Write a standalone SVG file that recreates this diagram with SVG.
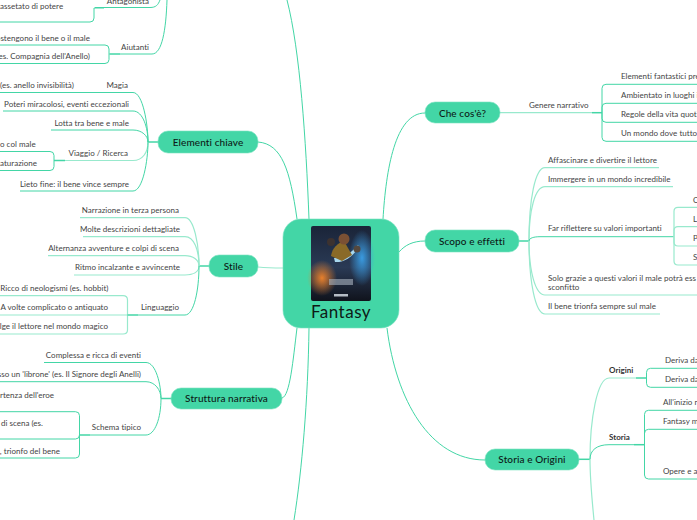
<svg xmlns="http://www.w3.org/2000/svg" width="697" height="520" viewBox="0 0 697 520">
<style>
.c{fill:none;stroke:#43d6a6;stroke-width:1}
.l{fill:none;stroke:#98e9cd;stroke-width:1.2}
.s{fill:none;stroke:#43d6a6;stroke-width:1.5}
.n{fill:#43d6a6;stroke:#7be3c1;stroke-width:.6}
text{font-family:"Lato","Noto Sans",sans-serif}
.t{font-size:8px;fill:#444;letter-spacing:.02px}
.e{text-anchor:end}
.b{font-weight:700;fill:#333}
.h{font-size:10px;fill:#0d1a16;text-anchor:middle;letter-spacing:.1px;font-weight:500}
</style>
<defs>
<linearGradient id="p" x1="0" y1="0" x2="0" y2="1"><stop offset="0" stop-color="#1a2438"/><stop offset=".55" stop-color="#2a3a55"/><stop offset="1" stop-color="#10131c"/></linearGradient>
<radialGradient id="o"><stop offset="0" stop-color="#e8802c"/><stop offset="1" stop-color="#e8802c" stop-opacity="0"/></radialGradient>
<radialGradient id="u"><stop offset="0" stop-color="#3a9be0"/><stop offset="1" stop-color="#3a9be0" stop-opacity="0"/></radialGradient>
</defs>
<g id="connectors">
<path class="c" d="M258 142C282 144 290 170 297 219"/>
<path class="l" d="M258 267C268 268 275 268 283 268"/>
<path class="c" d="M282 398C290 396 293 360 297 328"/>
<path class="c" d="M309 219C306 140 300 50 287 0"/>
<path class="c" d="M309 328C308 400 302 470 294 520"/>
<path class="c" d="M383 219C386 170 395 113 425 113"/>
<path class="c" d="M399 252C405 245 413 241 425 241"/>
<path class="c" d="M387 328C396 400 430 460 485 460"/>
<path class="c" d="M167 0C166 30 162 54 152 54H110"/>
<path class="c" d="M160 0C158 5 156 7.500 150 7.500H95"/>
<path class="c" d="M94 8V18Q94 22 90 22H0M94 8H104"/>
<path class="c" d="M0 45H105Q109 45 109 49V59.500Q109 63.500 105 63.500H0M109 54H120"/>
<path class="s" d="M148 142H158"/>
<path class="c" d="M0 92.500H133C143 92.500 148 125 148 142"/>
<path class="c" d="M3 111H133C143 111 148 128 148 142"/>
<path class="c" d="M51 130H133C142 130 148 136 148 142"/>
<path class="l" d="M65 160.500H133C143 160.500 148 152 148 142"/>
<path class="c" d="M20 191H133C143 191 148 160 148 142"/>
<path class="c" d="M0 151.500H50Q54 151.500 54 155.500V166.500Q54 170.500 50 170.500H0"/>
<path class="s" d="M54 160.500H65"/>
<path class="s" d="M199 266H209"/>
<path class="l" d="M80 217.700H185C194 217.700 199 245 199 266"/>
<path class="l" d="M83 236.700H185C194 236.700 199 250 199 266"/>
<path class="l" d="M48 255.700H185C193 255.700 199 260 199 266"/>
<path class="l" d="M74 275H185C193 275 199 272 199 266"/>
<path class="c" d="M138 315H185C194 315 199 290 199 266"/>
<path class="l" d="M0 295.700H123Q127.500 295.700 127.500 300V330Q127.500 334 123 334H0"/>
<path class="l" d="M0 315H127.500"/>
<path class="s" d="M127.500 315H138"/>
<path class="s" d="M161 398.500H171"/>
<path class="c" d="M44 362.500H146C156 362.500 161 385 161 398.500"/>
<path class="c" d="M0 381.700H146C155 381.700 161 390 161 398.500"/>
<path class="c" d="M90 435H146C155 435 161 418 161 398.500"/>
<path class="c" d="M0 411.700H75.500Q79.500 411.700 79.500 415.700V454Q79.500 458 75.500 458H0"/>
<path class="c" d="M0 439H75.500Q79.500 439 79.500 435"/>
<path class="s" d="M79.500 435H90"/>
<path class="l" d="M500 112.700H592"/>
<path class="s" d="M592 112.700H602"/>
<path class="c" d="M697 84.300H606Q602 84.300 602 88.300V137.300Q602 141.300 606 141.300H697"/>
<path class="c" d="M697 103.300H606Q602 103.300 602 107.300V118.300Q602 122.300 606 122.300H697"/>
<path class="s" d="M519 241H529"/>
<path class="l" d="M659 167.700H545C535 167.700 529 200 529 241"/>
<path class="l" d="M673 186.700H545C535 186.700 529 210 529 241"/>
<path class="c" d="M674 236.700H540C534 236.700 529 238 529 241"/>
<path class="l" d="M697 295H545C535 295 529 270 529 241"/>
<path class="l" d="M660 314H545C535 314 529 280 529 241"/>
<path class="l" d="M697 207.300H678Q674 207.300 674 211.300V261Q674 265 678 265H697"/>
<path class="l" d="M697 226.700H678Q674 226.700 674 230.700V242Q674 246 678 246H697"/>
<path class="s" d="M579 459.300H590"/>
<path class="l" d="M636 378H609C597 378 590 420 590 459.300"/>
<path class="s" d="M636 378H646.500"/>
<path class="c" d="M697 368.300H650.500Q646.500 368.300 646.500 372.300V383.300Q646.500 387.300 650.500 387.300H697"/>
<path class="c" d="M634 444.700H609C597 444.700 590 450 590 459.300"/>
<path class="s" d="M634 444.700H644.500"/>
<path class="c" d="M697 410.300H648.500Q644.500 410.300 644.500 414.300V475Q644.500 479 648.500 479H697"/>
<path class="c" d="M697 429.300H648.500Q644.500 429.300 644.500 433.300"/>
<path class="l" d="M590 459.300C590 480 592 500 594 520"/>
</g>
<g id="fantasy">
<rect class="n" x="283" y="219" width="116" height="109" rx="18"/>
<rect x="311" y="226" width="60" height="75" rx="2" fill="url(#p)"/>
<ellipse cx="322" cy="278" rx="15" ry="18" fill="url(#o)"/>
<ellipse cx="362" cy="258" rx="13" ry="28" fill="url(#u)"/>
<path d="M334 258C345 258 352 252 358 245L359 247C353 256 345 263 335 262Z" fill="#a8d8ef"/>
<path d="M331 256C332 248 338 243 344 241L352 255 342 261Z" fill="#8a6a28"/>
<circle cx="344" cy="239" r="5.500" fill="#7a5034"/>
<circle cx="331" cy="242" r="4" fill="#3c3230"/>
<circle cx="357" cy="249" r="3.500" fill="#54483e"/>
<rect x="329" y="279" width="24" height="6" fill="#aab4c0" opacity=".6"/>
<rect x="334" y="294" width="14" height="2.500" fill="#dfe6ee" opacity=".8"/>
<text x="341" y="317.500" font-size="17" fill="#0d1a16" text-anchor="middle" letter-spacing=".5">Fantasy</text>
</g>
<g id="antagonista"><text class="t e" x="149" y="4">Antagonista</text><text class="t" x="0" y="8.500">assetato di potere</text></g>
<g id="aiutanti"><text class="t e" x="149" y="50">Aiutanti</text><text class="t e" x="90" y="40.500">ostengono il bene o il male</text><text class="t e" x="90" y="59">es. Compagnia dell'Anello)</text></g>
<g id="elementi-chiave"><rect class="n" x="158" y="131" width="100" height="22" rx="10"/><text class="h" x="208" y="145.500">Elementi chiave</text></g>
<g id="magia"><text class="t e" x="128" y="88">Magia</text><text class="t" x="0" y="88">(es. anello invisibilità)</text></g>
<g id="poteri"><text class="t e" x="129" y="107">Poteri miracolosi, eventi eccezionali</text></g>
<g id="lotta"><text class="t e" x="129" y="126">Lotta tra bene e male</text></g>
<g id="viaggio"><text class="t e" x="128" y="156">Viaggio / Ricerca</text><text class="t" x="0" y="147">o col male</text><text class="t" x="0" y="166">aturazione</text></g>
<g id="lieto"><text class="t e" x="129" y="187">Lieto fine: il bene vince sempre</text></g>
<g id="stile"><rect class="n" x="209" y="255" width="49" height="22" rx="10"/><text class="h" x="233.500" y="270">Stile</text></g>
<g id="stile-voci">
<text class="t e" x="179" y="213.200">Narrazione in terza persona</text>
<text class="t e" x="180" y="232">Molte descrizioni dettagliate</text>
<text class="t e" x="179" y="251">Alternanza avventure e colpi di scena</text>
<text class="t e" x="180" y="270">Ritmo incalzante e avvincente</text>
<text class="t e" x="179" y="310">Linguaggio</text>
<text class="t e" x="108.500" y="291">Ricco di neologismi (es. hobbit)</text>
<text class="t e" x="108" y="310">A volte complicato o antiquato</text>
<text class="t e" x="108" y="329">lge il lettore nel mondo magico</text>
</g>
<g id="struttura-narrativa"><rect class="n" x="171" y="388" width="111" height="21" rx="10"/><text class="h" x="226.500" y="402">Struttura narrativa</text></g>
<g id="struttura-voci">
<text class="t e" x="141" y="358">Complessa e ricca di eventi</text>
<text class="t e" x="141" y="377">sso un 'librone' (es. Il Signore degli Anelli)</text>
<text class="t" x="0" y="398">rtenza dell'eroe</text>
<text class="t e" x="141" y="430">Schema tipico</text>
<text class="t e" x="43" y="426">di scena (es.</text>
<text class="t e" x="60" y="454">e, trionfo del bene</text>
</g>
<g id="che-cose"><rect class="n" x="425" y="102" width="75" height="21" rx="10"/><text class="h" x="462.500" y="116.500">Che cos'è?</text></g>
<g id="genere">
<text class="t" x="529" y="108">Genere narrativo</text>
<text class="t" x="621" y="79">Elementi fantastici pre</text>
<text class="t" x="621" y="98">Ambientato in luoghi in</text>
<text class="t" x="621" y="117">Regole della vita quoti</text>
<text class="t" x="621" y="136">Un mondo dove tutto è</text>
</g>
<g id="scopo-effetti"><rect class="n" x="425" y="230" width="94" height="22" rx="10"/><text class="h" x="472" y="244.500">Scopo e effetti</text></g>
<g id="scopo-voci">
<text class="t" x="548" y="163">Affascinare e divertire il lettore</text>
<text class="t" x="548" y="182">Immergere in un mondo incredibile</text>
<text class="t" x="548" y="231">Far riflettere su valori importanti</text>
<text class="t" x="693" y="203">C</text><text class="t" x="693" y="222">L</text><text class="t" x="693" y="241">P</text><text class="t" x="693" y="260">S</text>
<text class="t" x="548" y="281">Solo grazie a questi valori il male potrà ess</text>
<text class="t" x="548" y="290">sconfitto</text>
<text class="t" x="548" y="309">Il bene trionfa sempre sul male</text>
</g>
<g id="storia-origini"><rect class="n" x="485" y="449" width="94" height="21" rx="10"/><text class="h" x="532" y="463">Storia e Origini</text></g>
<g id="storia-voci">
<text class="t b" x="609" y="373">Origini</text>
<text class="t" x="665" y="363">Deriva da</text>
<text class="t" x="665" y="382">Deriva da</text>
<text class="t b" x="609" y="440">Storia</text>
<text class="t" x="663" y="405">All'inizio n</text>
<text class="t" x="663" y="424">Fantasy m</text>
<text class="t" x="663" y="474">Opere e a</text>
</g>
</svg>
